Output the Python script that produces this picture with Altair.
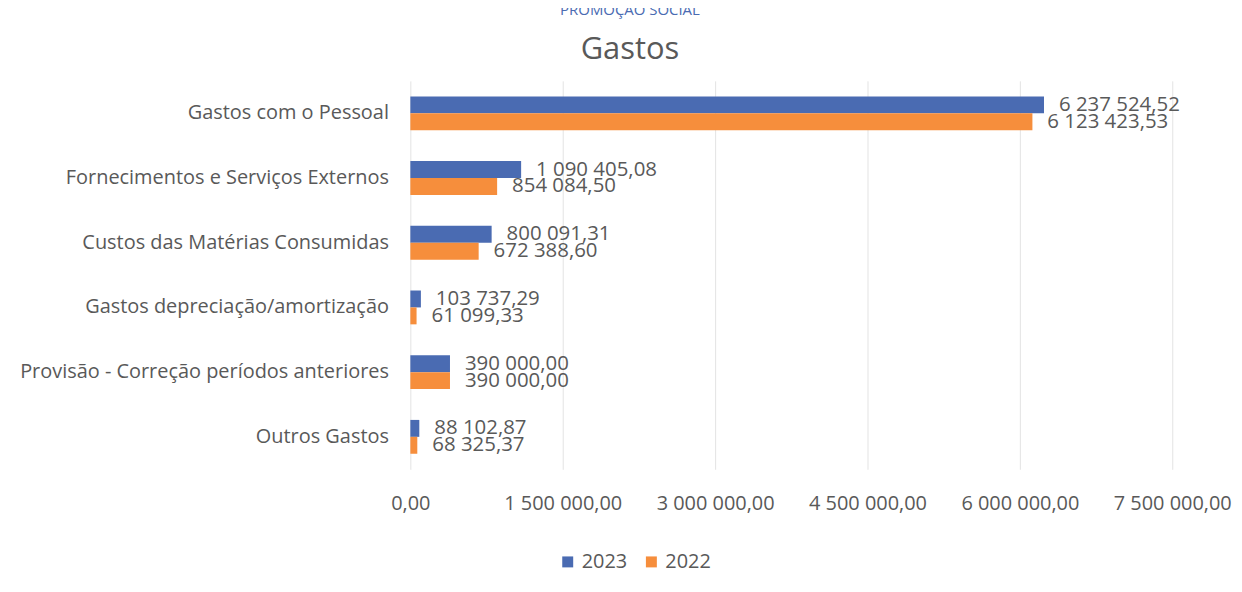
import altair as alt
import pandas as pd

categories = [
    "Gastos com o Pessoal",
    "Fornecimentos e Serviços Externos",
    "Custos das Matérias Consumidas",
    "Gastos depreciação/amortização",
    "Provisão - Correção períodos anteriores",
    "Outros Gastos",
]
values_2023 = [6237524.52, 1090405.08, 800091.31, 103737.29, 390000.00, 88102.87]
values_2022 = [6123423.53, 854084.50, 672388.60, 61099.33, 390000.00, 68325.37]
years = ["2023", "2022"]
x_ticks = [0, 1500000, 3000000, 4500000, 6000000, 7500000]
header_text = "PROMOÇÃO SOCIAL"
title_text = "Gastos"

BLUE = "#4A6BB2"
ORANGE = "#F68E3C"
GREY = "#595959"
FONT = "Open Sans"


def fmt(v):
    s = f"{v:,.2f}"
    return s.replace(",", " ").replace(".", ",")


rows = []
for c, a, b in zip(categories, values_2023, values_2022):
    rows.append(dict(cat=c, year="2023", value=a, label=fmt(a)))
    rows.append(dict(cat=c, year="2022", value=b, label=fmt(b)))
df = pd.DataFrame(rows)

label_expr = "replace(replace(format(datum.value, ',.2f'), regexp(',', 'g'), ' '), '.', ',')"

base = alt.Chart(df).encode(
    y=alt.Y(
        "cat:N",
        sort=categories,
        scale=alt.Scale(paddingInner=0.477, paddingOuter=0.24),
        axis=alt.Axis(
            title=None, ticks=False, domain=False, labelFontSize=20,
            labelColor=GREY, labelPadding=22, labelFont=FONT, labelLimit=420,
        ),
    ),
    yOffset=alt.YOffset("year:N", sort=years, scale=alt.Scale(paddingInner=0, paddingOuter=0)),
    x=alt.X(
        "value:Q",
        scale=alt.Scale(domain=[0, 7500000], nice=False),
        axis=alt.Axis(
            title=None, values=x_ticks, labelExpr=label_expr, domain=False, ticks=False,
            grid=True, gridColor="#E3E3E3", labelFontSize=20, labelPadding=24,
            labelColor=GREY, labelFont=FONT, labelFlush=False, labelOverlap=False,
        ),
    ),
)

bars = base.mark_bar().encode(
    color=alt.Color(
        "year:N",
        sort=years,
        scale=alt.Scale(domain=years, range=[BLUE, ORANGE]),
        legend=alt.Legend(
            title=None, orient="none", legendX=148, legendY=473, direction="horizontal",
            symbolType="square", symbolSize=121, symbolStrokeWidth=0,
            labelFontSize=20, labelColor=GREY, labelFont=FONT, columnPadding=14,
            labelOffset=4,
        ),
    )
)

texts = base.mark_text(
    align="left", baseline="middle", dx=15, fontSize=20.5, color=GREY, font=FONT
).encode(text="label:N")

chart = alt.layer(bars, texts).properties(
    width=765,
    height=390,
    title=alt.TitleParams(
        header_text, subtitle=title_text,
        fontSize=15, color=BLUE, font=FONT, fontWeight="normal",
        subtitleFontSize=31, subtitleColor=GREY, subtitleFont=FONT,
        subtitlePadding=17, anchor="middle", frame="group", dx=-162, offset=16,
    ),
    autosize=alt.AutoSizeParams(type="none"),
    padding={"left": 404, "top": 72, "right": 62, "bottom": 110},
).configure_view(stroke=None)

chart.save("out.html", embed_options={"renderer": "svg", "actions": False})
